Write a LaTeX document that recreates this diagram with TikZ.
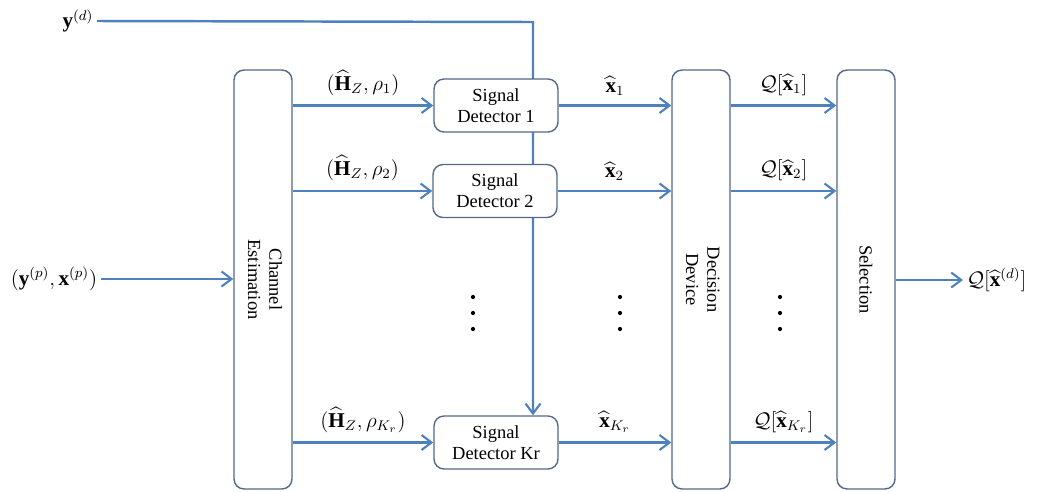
\documentclass[tikz,border=0pt]{standalone}
\usepackage{amsmath}
\usepackage{fontspec}
\setmainfont{Liberation Serif}
\usepackage{xcolor}
\usepackage{tikz}
\usetikzlibrary{arrows.meta, positioning, backgrounds}

\definecolor{flowblue}{RGB}{79,129,189}
\definecolor{boxgray}{RGB}{85,105,135}

\begin{document}
\begin{tikzpicture}[
  x=0.02cm, y=-0.02cm,
  every node/.style={font=\fontsize{10.5}{12}\selectfont},
  block/.style={rectangle, draw=boxgray, fill=white, line width=0.8pt, rounded corners=2mm,
    align=center, minimum width=2.48cm, minimum height=1.06cm, inner sep=1pt},
  tall/.style={rectangle, draw=boxgray, fill=white, line width=0.8pt, rounded corners=2mm,
    minimum width=1.16cm, minimum height=8.38cm, inner sep=1pt},
  flow/.style={draw=flowblue, line width=1.4pt,
    -{Straight Barb[length=2mm, width=3mm, line width=1.2pt]}},
  lab/.style={font=\large, inner sep=2pt}
]
\useasboundingbox (0,0) rectangle (1039,491);

% Blocks
\node[tall] (ce) at (263,279.5)
  {\rotatebox{-90}{\begin{tabular}{c}Channel\\Estimation\end{tabular}}};
\node[block] (sd1) at (496,105.5) {Signal\\Detector 1};
\node[block] (sd2) at (495,191) {Signal\\Detector 2};
\node[block] (sdk) at (496,442.5) {Signal\\Detector Kr};
\node[tall] (dd) at (701,279.5)
  {\rotatebox{-90}{\begin{tabular}{c}Decision\\Device\end{tabular}}};
\node[tall] (sel) at (866,279.5) {\rotatebox{-90}{Selection}};

% Inputs and output
\node[lab] (yd) at (78,21) {$\mathbf{y}^{(d)}$};
\node[lab] (inp) at (54,279) {$(\mathbf{y}^{(p)},\mathbf{x}^{(p)})$};
\node[lab, anchor=west] (out) at (963,280) {$\mathcal{Q}[\widehat{\mathbf{x}}^{(d)}]$};
\coordinate (turn) at (533,22);

% data line runs behind the detectors
\begin{scope}[on background layer]
\draw[flow] (yd.east) -- (turn) -- (turn |- sdk.north);
\end{scope}
\draw[flow] (inp) -- (inp -| ce.west);
\draw[flow] (sel.east |- out.west) -- (out.west);

% Channel estimates
\draw[flow] (ce.east |- sd1.west) -- (sd1.west)
  node[lab, midway, above=3pt] {$(\widehat{\mathbf{H}}_Z,\rho_1)$};
\draw[flow] (ce.east |- sd2.west) -- (sd2.west)
  node[lab, midway, above=3pt] {$(\widehat{\mathbf{H}}_Z,\rho_2)$};
\draw[flow] (ce.east |- sdk.west) -- (sdk.west)
  node[lab, midway, above=3pt] {$(\widehat{\mathbf{H}}_Z,\rho_{K_r})$};

% Detector outputs
\draw[flow] (sd1.east) -- (sd1.east -| dd.west)
  node[lab, midway, above=3pt] {$\widehat{\mathbf{x}}_1$};
\draw[flow] (sd2.east) -- (sd2.east -| dd.west)
  node[lab, midway, above=3pt] {$\widehat{\mathbf{x}}_2$};
\draw[flow] (sdk.east) -- (sdk.east -| dd.west)
  node[lab, midway, above=3pt] {$\widehat{\mathbf{x}}_{K_r}$};

% Decisions
\draw[flow] (dd.east |- sd1.east) -- (sd1.east -| sel.west)
  node[lab, midway, above=3pt] {$\mathcal{Q}[\widehat{\mathbf{x}}_1]$};
\draw[flow] (dd.east |- sd2.east) -- (sd2.east -| sel.west)
  node[lab, midway, above=3pt] {$\mathcal{Q}[\widehat{\mathbf{x}}_2]$};
\draw[flow] (dd.east |- sdk.east) -- (sdk.east -| sel.west)
  node[lab, midway, above=3pt] {$\mathcal{Q}[\widehat{\mathbf{x}}_{K_r}]$};

% Dots
\foreach \x in {473,620,780}
  \foreach \y in {297,313,329}
    \fill (\x,\y) circle (1.2pt);

\end{tikzpicture}
\end{document}
